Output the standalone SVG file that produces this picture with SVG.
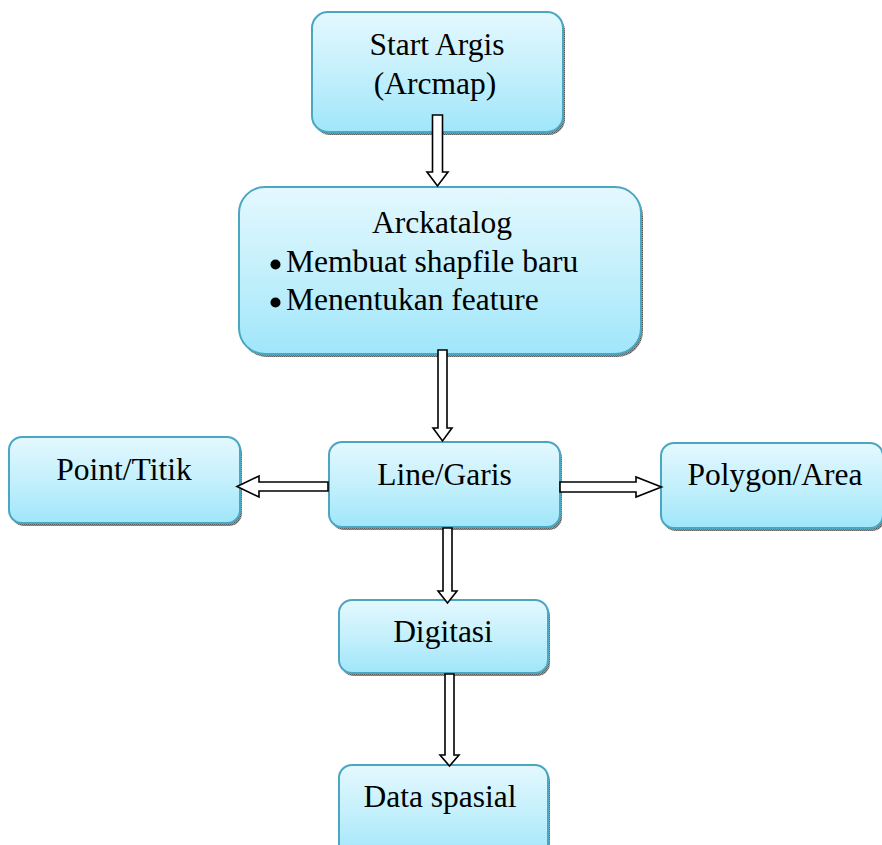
<svg xmlns="http://www.w3.org/2000/svg" width="882" height="845" viewBox="0 0 882 845">
<defs>
<linearGradient id="g" x1="0" y1="0" x2="0" y2="1">
<stop offset="0" stop-color="#E4F8FE"/>
<stop offset="0.5" stop-color="#C4F0FC"/>
<stop offset="1" stop-color="#A0E6FA"/>
</linearGradient>
<pattern id="sh" width="2" height="2" patternUnits="userSpaceOnUse">
<rect width="2" height="2" fill="#9a9a9a"/>
<rect width="1" height="1" fill="#5a5a5a"/>
<rect x="1" y="1" width="1" height="1" fill="#707070"/>
</pattern>
<style>
.box{fill:url(#g);stroke:#4BA6C2;stroke-width:2}
.shadow{fill:url(#sh)}
.t{font-family:"Liberation Serif","Times New Roman",serif;font-size:31.5px;fill:#000}
.c{text-anchor:middle}
.arr{fill:#fff;stroke:#000;stroke-width:1.6;stroke-linejoin:miter}
</style>
</defs>
<rect width="882" height="845" fill="#fff"/>

<g id="node-start">
<rect class="shadow" x="314" y="15" width="251" height="120" rx="16"/>
<rect class="box" x="312" y="12" width="251" height="120" rx="16"/>
<text class="t c" x="437" y="55">Start Argis</text>
<text class="t c" x="435" y="94">(Arcmap)</text>
</g>

<g id="node-arckatalog">
<rect class="shadow" x="241" y="190" width="402" height="167" rx="26"/>
<rect class="box" x="239" y="187" width="402" height="167" rx="26"/>
<text class="t c" x="442" y="233">Arckatalog</text>
<circle cx="275.5" cy="264.5" r="5" fill="#000"/>
<text class="t" x="286" y="272">Membuat shapfile baru</text>
<circle cx="275.5" cy="302.5" r="5" fill="#000"/>
<text class="t" x="286" y="310">Menentukan feature</text>
</g>

<g id="node-point">
<rect class="shadow" x="11" y="440" width="231" height="86" rx="13"/>
<rect class="box" x="9" y="437" width="231" height="86" rx="13"/>
<text class="t c" x="124" y="480">Point/Titik</text>
</g>

<g id="node-line">
<rect class="shadow" x="331" y="445" width="231" height="85" rx="13"/>
<rect class="box" x="329" y="442" width="231" height="85" rx="13"/>
<text class="t c" x="444.5" y="485">Line/Garis</text>
</g>

<g id="node-polygon">
<rect class="shadow" x="663" y="446" width="222" height="85" rx="13"/>
<rect class="box" x="661" y="443" width="222" height="85" rx="13"/>
<text class="t c" x="775" y="485">Polygon/Area</text>
</g>

<g id="node-digitasi">
<rect class="shadow" x="341" y="603" width="209" height="73" rx="13"/>
<rect class="box" x="339" y="600" width="209" height="73" rx="13"/>
<text class="t c" x="443" y="642">Digitasi</text>
</g>

<g id="node-data">
<rect class="shadow" x="341" y="768" width="209" height="95" rx="13"/>
<rect class="box" x="339" y="765" width="209" height="95" rx="13"/>
<text class="t c" x="440" y="807">Data spasial</text>
</g>

<g id="connectors">
<polygon class="arr" points="432.5,115 442.5,115 442.5,172 448,172 437.5,186 427,172 432.5,172"/>
<polygon class="arr" points="438,350 447,350 447,428 452,428 442.5,441 433,428 438,428"/>
<polygon class="arr" points="443,528 452,528 452,591 457,591 447.5,603 438,591 443,591"/>
<polygon class="arr" points="445,674 454,674 454,755 459,755 449.5,766 440,755 445,755"/>
<polygon class="arr" points="328,482 259,482 259,476 237,486.5 259,497 259,491 328,491"/>
<polygon class="arr" points="560,482 636,482 636,477 661.5,487 636,497 636,492 560,492"/>
</g>
</svg>
